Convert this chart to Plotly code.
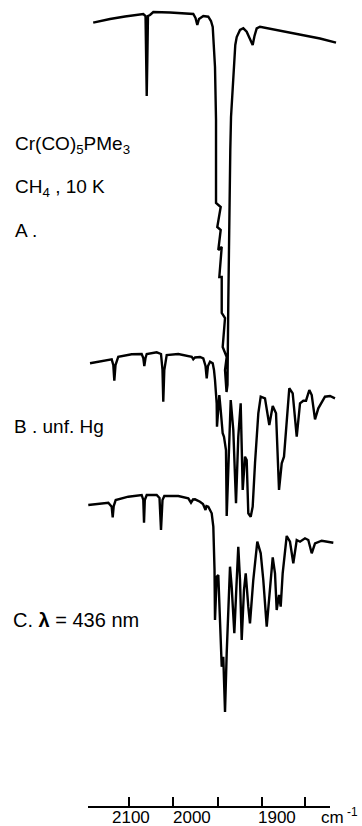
import plotly.graph_objects as go

# ---- Data (wavenumber in cm-1, ordinate = absorbance with offset, arb. units, increasing downward)
wn_A = [2163, 2135, 2110, 2079.5, 2075.8, 2074.7, 2073.8, 2072.8, 2071.7, 2068.3, 2062.8, 2035, 2010,
        1996.2, 1992.5, 1989.5, 1986.7, 1979.5, 1971.2, 1966.7, 1963.8, 1961.7, 1960, 1958.3, 1957.8,
        1958.3, 1950.5, 1956.2, 1950.5, 1954.5, 1948.8, 1952.8, 1948.8, 1948.8, 1943.3, 1947.2, 1940.5,
        1943.3, 1940.8, 1939.2, 1937.8, 1936.2, 1934.5, 1933.3, 1931.2, 1932.2, 1929.5, 1928.3, 1926.2,
        1923.8, 1918.3, 1912.8, 1907.2, 1902.5, 1897.2, 1894.2, 1890.5, 1885, 1851.7, 1818.3, 1785, 1758.3]
ab_A = [22.7, 19, 16.5, 14, 16, 60, 96, 60, 16, 15, 12, 12.5, 13.5,
        14, 18, 25, 19, 16, 16.7, 21, 27, 45, 67, 120, 160,
        203, 207, 227, 230, 250, 247, 277, 277, 313, 318, 347, 357,
        370, 392, 385, 300, 190, 150, 117, 92, 112, 80, 67, 45,
        37, 30, 28.3, 31.7, 38, 45, 36, 28.3, 26.7, 30.5, 34.5, 38.5, 42.7]

wn_B = [2168.3, 2143.3, 2132.2, 2129.5, 2127.8, 2125.8, 2121.2, 2098.8, 2082.2, 2079.5, 2077.8, 2075.8,
        2073.8, 2057.2, 2050, 2047.5, 2046.2, 2044.5, 2040.5, 2021.2, 1998.8, 1996.2, 1993.3, 1985,
        1979.5, 1975.8, 1973.8, 1971.7, 1968.3, 1963.8, 1961.7, 1960, 1957.2, 1956.7, 1952.8, 1950.5,
        1947.2, 1945, 1941.7, 1940.5, 1937.5, 1933.8, 1929.5, 1925, 1921.2, 1917.2, 1913.8, 1910,
        1907.2, 1904.5, 1900.5, 1897.2, 1893.3, 1887.8, 1883.8, 1876.7, 1869.5, 1863.8, 1858.3, 1853.3,
        1848.8, 1845, 1836.2, 1830.5, 1823.8, 1818.3, 1812.8, 1808.3, 1802.8, 1798.8, 1793.3, 1787.8,
        1776.7, 1768.3, 1760]
ab_B = [363.3, 360.7, 359.3, 365, 380.7, 365, 356.7, 354.3, 354, 358, 366, 358,
        354, 352.3, 354, 370, 401.7, 370, 355, 354, 356.7, 359.3, 357.5, 357,
        358.3, 366, 378.3, 366, 361.7, 363.3, 370, 380, 403.3, 426.7, 395, 410,
        433.3, 436.7, 450, 516, 470, 400, 430, 503.3, 436.7, 403.3, 490, 456.7,
        460, 513.3, 516.7, 506.7, 463, 413.3, 396.7, 398.3, 425, 406, 413.3, 490,
        463.3, 456.7, 388.3, 393.3, 436.7, 403.3, 400.7, 400.7, 390, 395, 419.3, 408.3,
        396.7, 396, 398.3]

wn_C = [2171.2, 2151.7, 2137.8, 2132.2, 2130.5, 2128.8, 2125.5, 2104.5, 2082.2, 2079.5, 2078.3, 2077,
        2073.8, 2057.2, 2052.5, 2050, 2047.5, 2044.5, 2021.2, 2004.5, 2000, 1996.7, 1993.3, 1985,
        1980, 1975.8, 1974.2, 1971.2, 1965.5, 1962.8, 1960.8, 1960, 1957.2, 1954.5, 1951.7, 1948.8,
        1946.2, 1943.3, 1940.5, 1937.8, 1935, 1932.2, 1929.5, 1927.8, 1923.8, 1921.2, 1918.3, 1915.5,
        1911.7, 1908.8, 1904.5, 1901.7, 1896.2, 1889.5, 1883.8, 1879.5, 1873.8, 1869.5, 1863.8, 1860,
        1857.2, 1853.3, 1850.5, 1847.2, 1840.5, 1835, 1829.5, 1823.8, 1818.3, 1810, 1804.5, 1798.8,
        1793.3, 1782.2, 1771.2, 1762.8]
ab_C = [505, 504, 502.7, 506.7, 517.3, 506, 500, 496.7, 495, 500, 522.7, 500,
        495, 495, 498, 530, 500, 496, 496, 498.3, 502.7, 499.5, 499.3, 501.7,
        504, 510, 506, 506.7, 513.3, 526.7, 570, 620, 576.7, 575, 613.3, 666.7,
        656.7, 712, 653.3, 613.3, 566.7, 586.7, 613.3, 633.3, 580, 546.7, 580, 640,
        590, 573.3, 606.7, 623.3, 580, 541.7, 553.3, 580, 626.7, 596.7, 557.3, 573.3,
        610, 595, 606.7, 573.3, 536, 541.7, 563.3, 540, 541.7, 538.3, 540, 553.3,
        543.3, 540.7, 541.7, 542.7]

tick_vals = [2102.8, 2029.5, 1955.5, 1882.2, 1810]
tick_labels = ["2100", "2000", "1900"]
tick_label_pos = [2100, 1999, 1856]

FONT = "Liberation Sans, Arial, sans-serif"

fig = go.Figure()
for wn, ab, name in [(wn_A, ab_A, "A"), (wn_B, ab_B, "B"), (wn_C, ab_C, "C")]:
    fig.add_trace(go.Scatter(x=wn, y=ab, mode="lines", name=name,
                             line=dict(color="black", width=2.4), hoverinfo="skip"))
# empty trace so that the wavenumber scale subplot gets drawn
fig.add_trace(go.Scatter(x=[], y=[], xaxis="x2", yaxis="y2", mode="lines", hoverinfo="skip"))

fig.update_layout(
    width=362, height=826,
    margin=dict(l=0, r=0, t=0, b=0),
    paper_bgcolor="white", plot_bgcolor="white",
    showlegend=False,
    xaxis=dict(domain=[0, 1], range=[2318.33, 1715], visible=False),
    yaxis=dict(domain=[0, 1], range=[826, 0], visible=False),
    xaxis2=dict(domain=[88.3 / 362, 330 / 362], range=[2171.2, 1768.3], anchor="y2",
                showline=True, linecolor="black", linewidth=2,
                ticks="inside", ticklen=9, tickwidth=2, tickcolor="black",
                tickvals=tick_vals, showticklabels=False,
                showgrid=False, zeroline=False),
    yaxis2=dict(domain=[20 / 826, 30 / 826], anchor="x2", visible=False, range=[0, 1]),
)

def label(text, px, py, size=19, xanchor="left"):
    fig.add_annotation(text=text, x=px / 362, y=1 - py / 826, xref="paper", yref="paper",
                       xanchor=xanchor, yanchor="middle", showarrow=False,
                       font=dict(family=FONT, size=size, color="black"))

label("Cr(CO)<sub>5</sub>PMe<sub>3</sub>", 13, 145)
label("CH<sub>4</sub> , 10 K", 13, 188)
label("A .", 13, 230)
label("B . unf. Hg", 12, 426)
label("C. <b>λ</b> = 436 nm", 11, 620, size=20)
label("cm<sup> -1</sup>", 319, 816, size=17)

for t, v in zip(tick_labels, tick_label_pos):
    fig.add_annotation(text=t, x=v, y=1 - 817 / 826, xref="x", yref="paper",
                       xanchor="center", yanchor="middle", showarrow=False,
                       font=dict(family=FONT, size=17, color="black"))

fig.write_html("out.html", config={"displayModeBar": False},
               post_script="document.body.style.margin='0';")
